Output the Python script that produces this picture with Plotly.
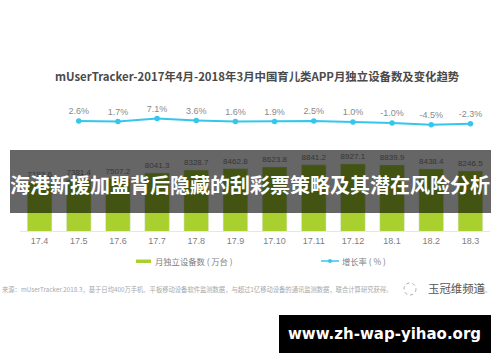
import plotly.graph_objects as go

months = ["17.4","17.5","17.6","17.7","17.8","17.9","17.10","17.11","17.12","18.1","18.2","18.3"]
devices = [7193.6,7381.4,7507.2,8041.3,8328.7,8462.8,8623.8,8841.2,8927.1,8839.9,8438.4,8246.5]
growth_months = months[1:]
growth = [2.6,1.7,7.1,3.6,1.6,1.9,2.5,1.0,-1.0,-4.5,-2.3]
growth_labels = ["2.6%","1.7%","7.1%","3.6%","1.6%","1.9%","2.5%","1.0%","-1.0%","-4.5%","-2.3%"]

W, H = 500, 362
L, R, T, B = 20, 10, 100, 131
FONT = "Noto Sans CJK SC"
GREEN, BLUE = "#a9d02e", "#35c6ee"
def px(x): return (x - L) / (W - L - R)
def py(y): return (H - B - y) / (H - T - B)

fig = go.Figure()
fig.add_bar(x=months, y=devices, name="月独立设备数（万台）", marker_color=GREEN, width=0.63,
            text=[f"{v:.1f}" for v in devices], textposition="outside", cliponaxis=False,
            textfont=dict(size=9, color="#8a8a8a", family="Liberation Sans"))
fig.add_scatter(x=growth_months, y=growth, name="增长率（%）", yaxis="y2", mode="lines+markers+text",
                line=dict(color=BLUE, width=2), marker=dict(size=5.5, color=BLUE),
                text=growth_labels, textposition="top center",
                textfont=dict(size=9, color="#8a8a8a", family="Liberation Sans"))

def rect(x0, x1, y0, y1, color):
    return dict(type="rect", xref="paper", yref="paper", x0=px(x0), x1=px(x1), y0=py(y1), y1=py(y0),
                fillcolor=color, line_width=0, layer="above")
shapes = [
    rect(10, 491, 150, 213, "rgba(0,0,0,0.6)"),
    rect(279, 491, 315, 353, "#000000"),
    rect(136, 151, 259.5, 263, GREEN),
    dict(type="line", xref="paper", yref="paper", x0=px(321), x1=px(339), y0=py(261), y1=py(261),
         line=dict(color=BLUE, width=1.5), layer="above"),
    dict(type="circle", xref="paper", yref="paper", x0=px(328), x1=px(332), y0=py(263), y1=py(259),
         fillcolor=BLUE, line_width=0, layer="above"),
    dict(type="circle", xref="paper", yref="paper", x0=px(404), x1=px(416), y0=py(295), y1=py(283),
         line=dict(color="#aaaaaa", width=1, dash="dot"), layer="above"),
]
def note(x, y, text, size, color, anchor="center", family=FONT):
    return dict(xref="paper", yref="paper", x=px(x), y=py(y), text=text, showarrow=False,
                xanchor=anchor, yanchor="middle", font=dict(size=size, color=color, family=family))
annotations = [
    note(257, 76, "<b>mUserTracker-2017年4月-2018年3月中国育儿类APP月独立设备数及变化趋势</b>", 11.4, "#4a4a4a"),
    note(250, 184, "<b>海港新援加盟背后隐藏的刮彩票策略及其潜在风险分析</b>", 20, "#ffffff"),
    note(153, 261, "月独立设备数 ( 万台 )", 8.3, "#808080", "left"),
    note(340, 261, "增长率 ( % )", 8.3, "#808080", "left"),
    note(0, 289, "来源：mUserTracker.2018.3，基于日均400万手机、平板移动设备软件监测数据，与超过1亿移动设备的通讯监测数据，联合计算研究获得。", 6.3, "#a8a8a8", "left"),
    note(493, 289, "制。", 6, "#a8a8a8", "right"),
    note(426, 288, "玉冠维频道", 11.4, "#555555", "left"),
    note(384, 334, "<b>www.zh-wap-yihao.org</b>", 15, "#ffffff", family="DejaVu Sans"),
]

fig.update_layout(
    width=W, height=H, autosize=False, margin=dict(l=L, r=R, t=T, b=B),
    paper_bgcolor="white", plot_bgcolor="white", showlegend=False, bargap=0.37,
    font=dict(family=FONT, color="#8a8a8a", size=9),
    xaxis=dict(type="category", categoryorder="array", categoryarray=months, range=[-0.5, 11.5], showgrid=False,
               showline=True, linecolor="#e6e6e6", linewidth=1, ticks="", ticklen=0, ticklabelstandoff=1,
               tickfont=dict(size=9, color="#808080", family="Liberation Sans")),
    yaxis=dict(range=[2358, 15200], visible=False, showgrid=False),
    yaxis2=dict(range=[-201, 41.5], overlaying="y", visible=False, showgrid=False),
    shapes=shapes, annotations=annotations,
)
fig.write_html("out.html", config={"displayModeBar": False},
               post_script="document.body.style.margin='0';document.documentElement.style.overflow='hidden';")
